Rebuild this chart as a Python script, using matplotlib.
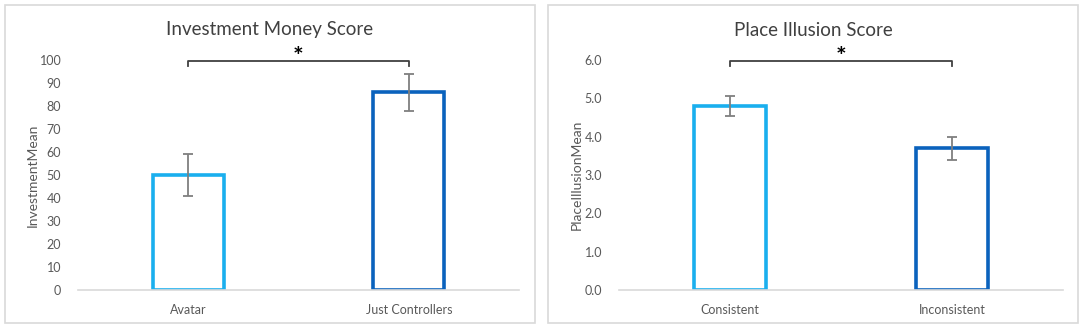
import matplotlib.pyplot as plt
from matplotlib.patches import Rectangle

plt.rcParams['font.family'] = ['Lato', 'DejaVu Sans']

# left chart
inv_groups = ['Avatar', 'Just Controllers']
inv_mean = [50, 86]
inv_err = [9, 8]

# right chart
pi_groups = ['Consistent', 'Inconsistent']
pi_mean = [4.8, 3.7]
pi_err = [0.25, 0.3]

colors = ['#1AAFEE', '#0A62BD']
txt = '#595959'

W, H = 1084, 329
fig = plt.figure(figsize=(W / 100, H / 100), dpi=100)

# panel frames
for x0, x1 in [(5, 535), (548, 1078)]:
    fig.patches.append(Rectangle((x0 / W, 1 - 323 / H), (x1 - x0) / W, 318 / H,
                                 transform=fig.transFigure, fill=False,
                                 edgecolor='#d9d9d9', linewidth=1.2))


def panel(ax_left, ax_right, panel_c, groups, means, errs, ymax, ystep, fmt,
          title, ylabel, ylab_x):
    ax = fig.add_axes([ax_left / W, 1 - 290 / H, (ax_right - ax_left) / W, 230 / H])
    x = [0, 1]
    ax.bar(x, means, width=0.32, facecolor='white', edgecolor=colors, linewidth=2.6)
    ax.errorbar(x, means, yerr=errs, fmt='none', ecolor='#7f7f7f',
                elinewidth=1.3, capsize=3.5, capthick=1.3)
    ax.set_xlim(-0.5, 1.5)
    ax.set_ylim(0, ymax)
    ticks = [i * ystep for i in range(int(round(ymax / ystep)) + 1)]
    ax.set_yticks(ticks)
    ax.set_yticklabels([fmt.format(t) for t in ticks])
    ax.set_xticks(x)
    ax.set_xticklabels(groups)
    for s in ['top', 'right', 'left']:
        ax.spines[s].set_visible(False)
    ax.spines['bottom'].set_color('#d9d9d9')
    ax.spines['bottom'].set_linewidth(1.2)
    ax.tick_params(axis='both', length=0, colors=txt, labelsize=9)
    ax.tick_params(axis='y', pad=12)
    ax.tick_params(axis='x', pad=10)
    ax.patch.set_visible(False)

    # significance bracket
    yb = 1 - 61 / H
    yt = 1 - 66 / H
    xs = [ax.transData.transform((xi, 0))[0] / fig.dpi / fig.get_figwidth() for xi in x]
    fig.add_artist(plt.Line2D([xs[0], xs[0], xs[1], xs[1]], [yt, yb, yb, yt],
                              transform=fig.transFigure, color='#404040', linewidth=1.3))
    fig.text((xs[0] + xs[1]) / 2, 1 - 58 / H, '*', ha='center', va='center',
             fontsize=18, fontweight='bold', color='black')

    fig.text(panel_c / W, 1 - 30 / H, title, ha='center', va='center',
             fontsize=13.5, color='#404040')
    fig.text(ylab_x / W, 1 - 175 / H, ylabel, ha='center', va='center',
             rotation=90, fontsize=10, color=txt)


panel(78, 519, 270, inv_groups, inv_mean, inv_err, 100, 10, '{:.0f}',
      'Investment Money Score', 'InvestmentMean', 33)
panel(619, 1063, 813, pi_groups, pi_mean, pi_err, 6.0, 1.0, '{:.1f}',
      'Place Illusion Score', 'PlaceIllusionMean', 577)

fig.savefig('out.png', dpi=100, facecolor='white')
